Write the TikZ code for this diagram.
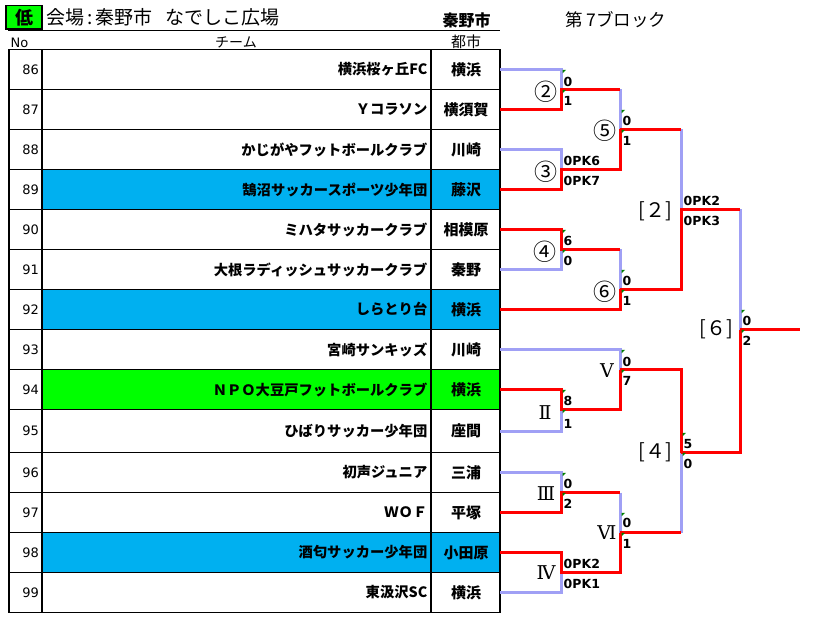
\documentclass[tikz,border=0pt]{standalone}
\usepackage{fontspec}
\setmainfont{Noto Sans CJK JP}
\newfontfamily\numf{DejaVu Sans}
\newfontfamily\serf{DejaVu Serif}
\definecolor{winred}{RGB}{255,0,0}
\definecolor{lav}{RGB}{160,160,245}
\definecolor{rowblue}{RGB}{0,176,240}
\definecolor{rowgreen}{RGB}{0,255,0}
\definecolor{cmtgreen}{RGB}{0,128,0}
\newcommand{\fsz}[1]{\fontsize{#1}{#1}\selectfont}
\begin{document}
\begin{tikzpicture}[x=1pt,y=-1pt,
  tbl/.style={line width=1.3pt},
  win/.style={draw=winred,line width=3pt},
  lose/.style={draw=lav,line width=3pt},
  nolab/.style={anchor=east,inner sep=0pt,font=\numf\fsz{13}},
  team/.style={anchor=east,inner sep=0pt,font=\bfseries\fsz{14.3}},
  city/.style={inner sep=0pt,font=\bfseries\fsz{15}},
  score/.style={anchor=west,inner sep=0pt,font=\numf\bfseries\fsz{12.5}},
  circ/.style={inner sep=0pt,font=\fsz{23}},
  roman/.style={inner sep=0pt,font=\serf\fsz{19}},
  rnd/.style={inner sep=0pt,font=\fsz{20}},
  cmt/.style={fill=cmtgreen}]
\useasboundingbox (0,0) rectangle (819,636);
\fill[white] (0,0) rectangle (819,636);
% header
\node[draw,line width=1.8pt,fill=rowgreen,minimum width=36pt,minimum height=23.5pt,inner sep=0pt,font=\bfseries\fsz{18}] (low) at (24,17.3) {低};
\node[anchor=west,inner sep=0pt,font=\fsz{19}] (venue) at (46,17.5) {会場\kern3pt:\kern3pt秦野市\hspace{13pt}なでしこ広場};
\node[inner sep=0pt,font=\bfseries\fsz{16}] (hcity) at (466.5,20.5) {秦野市};
\node[anchor=west,inner sep=0pt,font=\fsz{17.5}] (block) at (565,19.5) {第 7ブロック};
\draw[line width=1pt] (8,30.5) -- (500,30.5);
\node[anchor=west,inner sep=0pt,font=\numf\fsz{13}] (hno) at (10.5,42.5) {No};
\node[inner sep=0pt,font=\fsz{14}] (hteam) at (236,42) {チーム};
\node[inner sep=0pt,font=\fsz{15}] (hcty) at (466,42) {都市};
% row fills
\fill[rowblue] (42,169.5) rectangle (500,209.5);
\fill[rowblue] (42,289.5) rectangle (500,329.5);
\fill[rowgreen] (42,369.5) rectangle (500,409.5);
\fill[rowblue] (42,532.5) rectangle (500,572.5);
% table lines
\draw[tbl] (9,49.5) rectangle (500,612.5);
\draw[tbl] (42,49.5) -- (42,612.5);
\draw[tbl] (431,49.5) -- (431,612.5);
\foreach \yy in {89.5,129.5,169.5,209.5,249.5,289.5,329.5,369.5,409.5,452.5,492.5,532.5,572.5}
  \draw[tbl] (9,\yy) -- (500,\yy);
% rows
\foreach \num/\yy/\tm/\ct in {
  86/69.5/横浜桜ヶ丘FC/横浜,
  87/109.5/Ｙコラソン/横須賀,
  88/149.5/かじがやフットボールクラブ/川崎,
  89/189.5/鵠沼サッカースポーツ少年団/藤沢,
  90/229.5/ミハタサッカークラブ/相模原,
  91/269.5/大根ラディッシュサッカークラブ/秦野,
  92/309.5/しらとり台/横浜,
  93/349.5/宮崎サンキッズ/川崎,
  94/389.5/ＮＰＯ大豆戸フットボールクラブ/横浜,
  95/431/ひばりサッカー少年団/座間,
  96/472.5/初声ジュニア/三浦,
  97/512.5/ＷＯＦ/平塚,
  98/552.5/酒匂サッカー少年団/小田原,
  99/592.5/東汲沢SC/横浜}{
  \node[nolab] (n\num) at (39,\yy) {\num};
  \node[team] (t\num) at (427.5,\yy) {\tm};
  \node[city] (c\num) at (466,\yy) {\ct};
  \coordinate (r\num) at (500,\yy);
}
% match points
\coordinate (m2) at (561,89.5);
\coordinate (m3) at (561,169.5);
\coordinate (m4) at (561,249.5);
\coordinate (m5) at (620,129.5);
\coordinate (m6) at (620,289.5);
\coordinate (k2) at (681,209.5);
\coordinate (mII) at (561,409.5);
\coordinate (mIII) at (561,492.5);
\coordinate (mIV) at (561,572.5);
\coordinate (mV) at (620,369.5);
\coordinate (mVI) at (620,532.5);
\coordinate (k4) at (681,452.5);
\coordinate (k6) at (740,329.5);
\coordinate (fin) at (800,329.5);
% losing lines
\draw[lose] (r86) -| (m2);
\draw[lose] (r88) -| (m3);
\draw[lose] (r91) -| (m4);
\draw[lose] (m2 -| m5) -- (m5);
\draw[lose] (m4 -| m6) -- (m6);
\draw[lose] (m5 -| k2) -- (k2);
\draw[lose] (k2 -| k6) -- (k6);
\draw[lose] (r93) -| (mV);
\draw[lose] (r95) -| (mII);
\draw[lose] (r96) -| (mIII);
\draw[lose] (r99) -| (mIV);
\draw[lose] (mIII -| mVI) -- (mVI);
\draw[lose] (mVI -| k4) -- (k4);
% winning lines
\draw[win] (r87) -| (m2) -- (m2 -| m5);
\draw[win] (r89) -| (m3) -| (m5);
\draw[win] (r90) -| (m4) -- (m4 -| m6);
\draw[win] (r92) -| (m6);
\draw[win] (m5) -- (m5 -| k2);
\draw[win] (m6) -| (k2) -- (k2 -| k6);
\draw[win] (r94) -| (mII) -| (mV);
\draw[win] (r97) -| (mIII) -- (mIII -| mVI);
\draw[win] (r98) -| (mIV) -| (mVI);
\draw[win] (mV) -| (k4);
\draw[win] (mVI) -- (mVI -| k4);
\draw[win] (k4) -| (k6);
\draw[win] (k6) -- (fin);
% comment marks
\foreach \mx/\my in {561/69.5,561/89.5,561/229.5,561/249.5,620/109.5,620/129.5,620/269.5,620/289.5,
  740/309.5,740/329.5,620/349.5,620/369.5,561/389.5,561/409.5,561/472.5,561/492.5,620/512.5,620/532.5,681/432.5,681/452.5}
  \fill[cmt] (\mx+1.5,\my+0.3) -- (\mx+5,\my+0.3) -- (\mx+1.5,\my+3.8) -- cycle;
% scores
\node[score] (s2a) at (563.5,81.5) {0};
\node[score] (s2b) at (563.5,100.5) {1};
\node[score] (s3a) at (563.5,160.5) {0PK6};
\node[score] (s3b) at (563.5,180.5) {0PK7};
\node[score] (s4a) at (563.5,240.5) {6};
\node[score] (s4b) at (563.5,260.5) {0};
\node[score] (s5a) at (622.5,121) {0};
\node[score] (s5b) at (622.5,141) {1};
\node[score] (s6a) at (622.5,281) {0};
\node[score] (s6b) at (622.5,300.5) {1};
\node[score] (sk2a) at (683.5,200.5) {0PK2};
\node[score] (sk2b) at (683.5,221) {0PK3};
\node[score] (sk6a) at (742.5,320.5) {0};
\node[score] (sk6b) at (742.5,341) {2};
\node[score] (sVa) at (622.5,361.5) {0};
\node[score] (sVb) at (622.5,380.5) {7};
\node[score] (sIIa) at (563.5,401) {8};
\node[score] (sIIb) at (563.5,423.5) {1};
\node[score] (sk4a) at (683.5,444) {5};
\node[score] (sk4b) at (683.5,464) {0};
\node[score] (sIIIa) at (563.5,484) {0};
\node[score] (sIIIb) at (563.5,503.5) {2};
\node[score] (sIVa) at (563.5,564) {0PK2};
\node[score] (sIVb) at (563.5,584) {0PK1};
\node[score] (sVIa) at (622.5,523) {0};
\node[score] (sVIb) at (622.5,544) {1};
% match labels
\node[circ] (l2) at (546,91.5) {②};
\node[circ] (l3) at (546,171.5) {③};
\node[circ] (l4) at (545,251.5) {④};
\node[circ] (l5) at (605,131) {⑤};
\node[circ] (l6) at (605,291.5) {⑥};
\node[roman] (lV) at (607,370.7) {Ⅴ};
\node[roman] (lII) at (545,412.7) {Ⅱ};
\node[roman] (lIII) at (546,494) {Ⅲ};
\node[roman] (lIV) at (546,573) {Ⅳ};
\node[roman] (lVI) at (607,533) {Ⅵ};
\node[rnd] (lk2) at (655,211) {[２]};
\node[rnd] (lk4) at (655,452.5) {[４]};
\node[rnd] (lk6) at (716,329) {[６]};
\end{tikzpicture}
\end{document}
